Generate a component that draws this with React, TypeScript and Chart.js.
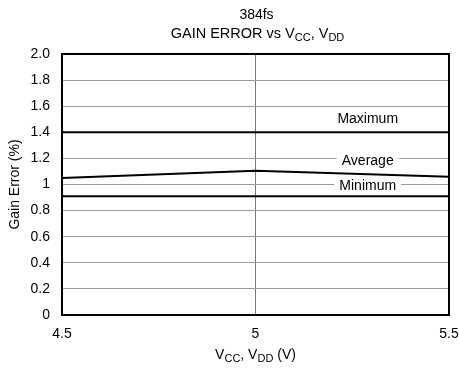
import React, { useEffect, useRef } from "react";
import { Chart, registerables } from "chart.js";

Chart.register(...registerables);

const xValues = [4.5, 5, 5.5];
const maximumValues = [1.4, 1.4, 1.4];
const averageValues = [1.05, 1.105, 1.06];
const minimumValues = [0.91, 0.91, 0.91];
const seriesNames = ["Maximum", "Average", "Minimum"];
const labelAnchorsX = [5.29, 5.29, 5.29];
const labelAnchorsY = [1.5, 1.18, 0.988];

const FONT = "Liberation Sans, Arial, Helvetica, sans-serif";

function drawSub(ctx: CanvasRenderingContext2D, parts: [string, boolean][], cx: number, y: number, size: number) {
  const subSize = 11;
  let total = 0;
  for (const [t, sub] of parts) {
    ctx.font = `${sub ? subSize : size}px ${FONT}`;
    total += ctx.measureText(t).width;
  }
  let x = cx - total / 2;
  ctx.textAlign = "left";
  ctx.textBaseline = "alphabetic";
  for (const [t, sub] of parts) {
    ctx.font = `${sub ? subSize : size}px ${FONT}`;
    ctx.fillText(t, x, sub ? y + 3 : y);
    x += ctx.measureText(t).width;
  }
}

const textPlugin = {
  id: "textPlugin",
  afterDraw(chart: any) {
    const { ctx, chartArea, scales } = chart;
    ctx.save();
    ctx.strokeStyle = "#000";
    ctx.lineWidth = 2;
    ctx.strokeRect(chartArea.left, chartArea.top, chartArea.right - chartArea.left, chartArea.bottom - chartArea.top);
    ctx.fillStyle = "#000";
    const cx = (chartArea.left + chartArea.right) / 2;
    ctx.font = `14px ${FONT}`;
    ctx.textAlign = "center";
    ctx.textBaseline = "alphabetic";
    ctx.fillText("384fs", cx + 1, 19);
    drawSub(ctx, [["GAIN ERROR vs V", false], ["CC", true], [", V", false], ["DD", true]], cx + 2, 38, 14.5);
    drawSub(ctx, [["V", false], ["CC", true], [", V", false], ["DD", true], [" (V)", false]], cx, 359, 14);
    ctx.save();
    ctx.translate(15, (chartArea.top + chartArea.bottom) / 2);
    ctx.rotate(-Math.PI / 2);
    ctx.font = `14px ${FONT}`;
    ctx.textAlign = "center";
    ctx.textBaseline = "middle";
    ctx.fillText("Gain Error (%)", 0, 0);
    ctx.restore();
    ctx.font = `14px ${FONT}`;
    ctx.textAlign = "center";
    ctx.textBaseline = "middle";
    seriesNames.forEach((name, i) => {
      const px = scales.x.getPixelForValue(labelAnchorsX[i]);
      const py = scales.y.getPixelForValue(labelAnchorsY[i]);
      const w = ctx.measureText(name).width;
      ctx.fillStyle = "#fff";
      ctx.fillRect(px - w / 2 - 5, py - 7, w + 10, 14);
      ctx.fillStyle = "#000";
      ctx.fillText(name, px, py);
    });
    ctx.restore();
  },
};

export default function App() {
  const ref = useRef<HTMLCanvasElement>(null);
  useEffect(() => {
    if (!ref.current) return;
    const mk = (label: string, data: number[]) => ({
      label,
      data: xValues.map((x, i) => ({ x, y: data[i] })),
      borderColor: "#000",
      borderWidth: 2,
      pointRadius: 0,
      tension: 0,
      fill: false,
    });
    const chart = new Chart(ref.current, {
      type: "line",
      data: {
        datasets: [mk("Maximum", maximumValues), mk("Average", averageValues), mk("Minimum", minimumValues)],
      },
      options: {
        animation: false,
        responsive: false,
        maintainAspectRatio: false,
        layout: { padding: { top: 54, right: 10, left: 0, bottom: 0 } },
        plugins: { legend: { display: false }, title: { display: false }, tooltip: { enabled: false } },
        scales: {
          x: {
            type: "linear",
            min: 4.5,
            max: 5.5,
            afterFit: (s: any) => { s.height = 53; s.paddingRight = 0; s.paddingLeft = 0; },
            afterBuildTicks: (s: any) => { s.ticks = xValues.map((v) => ({ value: v })); },
            grid: { color: "#777", lineWidth: 1, drawTicks: false },
            border: { display: false },
            ticks: {
              color: "#000",
              font: { family: FONT, size: 14 },
              padding: 11,
              maxRotation: 0,
              callback: (v: any) => String(v),
            },
          },
          y: {
            min: 0,
            max: 2,
            afterFit: (s: any) => { s.width = 62; },
            grid: { color: "#999", lineWidth: 1, drawTicks: false },
            border: { display: false },
            ticks: {
              stepSize: 0.2,
              color: "#000",
              font: { family: FONT, size: 14 },
              padding: 12,
              callback: (v: any) => {
                const n = Math.round(Number(v) * 10) / 10;
                if (n === 0) return "0";
                if (n === 1) return "1";
                return n.toFixed(1);
              },
            },
          },
        },
      },
      plugins: [textPlugin],
    } as any);
    return () => chart.destroy();
  }, []);
  return (
    <div style={{ position: "fixed", left: 0, top: 0, width: 459, height: 368, background: "#fff" }}>
      <canvas ref={ref} width={459} height={368} style={{ width: 459, height: 368 }} />
    </div>
  );
}
